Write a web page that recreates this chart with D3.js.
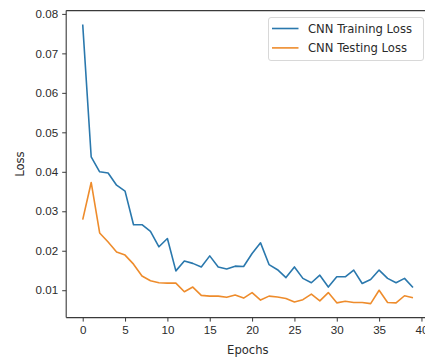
<!DOCTYPE html>
<html>
<head>
<meta charset="utf-8">
<script src="https://cdn.jsdelivr.net/npm/d3@7/dist/d3.min.js"></script>
<style>
  html, body { margin: 0; padding: 0; background: #fff; }
  svg { display: block; font-family: "DejaVu Sans", sans-serif; }
</style>
</head>
<body>
<svg id="chart" width="425" height="358"></svg>
<script>
// Loss per epoch for the CNN model
const epochs = d3.range(0, 40);
const trainingLoss = [
  0.0773, 0.0438, 0.0400, 0.0397, 0.0366, 0.0351, 0.0266, 0.0266, 0.0249, 0.0210,
  0.0231, 0.0149, 0.0174, 0.0168, 0.0159, 0.0187, 0.0159, 0.0154, 0.0161, 0.0160,
  0.0193, 0.0220, 0.0165, 0.0152, 0.0132, 0.0159, 0.0130, 0.0119, 0.0138, 0.0108,
  0.0134, 0.0134, 0.0151, 0.0117, 0.0127, 0.0151, 0.0130, 0.0119, 0.0130, 0.0107
];
const testingLoss = [
  0.0279, 0.0373, 0.0245, 0.0222, 0.0197, 0.0189, 0.0166, 0.0136, 0.0124, 0.0119,
  0.0118, 0.0118, 0.0096, 0.0108, 0.0087, 0.0085, 0.0085, 0.0082, 0.0088, 0.0080,
  0.0094, 0.0075, 0.0085, 0.0083, 0.0079, 0.0070, 0.0076, 0.0090, 0.0073, 0.0094,
  0.0068, 0.0072, 0.0069, 0.0069, 0.0066, 0.0100, 0.0069, 0.0068, 0.0086, 0.0081
];
const seriesNames = ["CNN Training Loss", "CNN Testing Loss"];
const seriesColors = ["#2a78ad", "#ee8c2c"];
const xTicks = [0, 5, 10, 15, 20, 25, 30, 35, 40];
const yTicks = [0.01, 0.02, 0.03, 0.04, 0.05, 0.06, 0.07, 0.08];

const svg = d3.select("#chart");
const plot = { left: 66.2, right: 429.5, top: 10.6, bottom: 317.6 };

// 5% padding around the data range on both axes
const xMin = d3.min(epochs), xMax = d3.max(epochs);
const xPad = (xMax - xMin) * 0.05;
const x = d3.scaleLinear().domain([xMin - xPad, xMax + xPad]).range([plot.left, plot.right]);

const allLoss = trainingLoss.concat(testingLoss);
const yMin = d3.min(allLoss), yMax = d3.max(allLoss);
const yPad = (yMax - yMin) * 0.05;
const y = d3.scaleLinear().domain([yMin - yPad, yMax + yPad]).range([plot.bottom, plot.top]);

const axisColor = "#3a3a3a";
const textColor = "#2b2b2b";

// Axes
const xAxis = svg.append("g")
  .attr("transform", `translate(0,${plot.bottom})`)
  .call(d3.axisBottom(x).tickValues(xTicks).tickFormat(d3.format("d")).tickSize(4).tickPadding(4));
const yAxis = svg.append("g")
  .attr("transform", `translate(${plot.left},0)`)
  .call(d3.axisLeft(y).tickValues(yTicks).tickFormat(d3.format(".2f")).tickSize(4).tickPadding(4));

[xAxis, yAxis].forEach(g => {
  g.select(".domain").attr("stroke", axisColor).attr("stroke-width", 1.1);
  g.selectAll(".tick line").attr("stroke", axisColor).attr("stroke-width", 1);
  g.selectAll(".tick text").attr("fill", textColor).style("font-size", "11.6px");
});
xAxis.select(".domain").attr("d", `M${plot.left},0H${plot.right}`);
yAxis.select(".domain").attr("d", `M0,${plot.bottom}V${plot.top}`);

// Top and right spines
svg.append("line")
  .attr("x1", plot.left).attr("x2", plot.right)
  .attr("y1", plot.top).attr("y2", plot.top)
  .attr("stroke", axisColor).attr("stroke-width", 1.1);
svg.append("line")
  .attr("x1", plot.right).attr("x2", plot.right)
  .attr("y1", plot.top).attr("y2", plot.bottom)
  .attr("stroke", axisColor).attr("stroke-width", 1.1);

// Axis titles
svg.append("text")
  .attr("x", (plot.left + plot.right) / 2)
  .attr("y", 354)
  .attr("text-anchor", "middle")
  .attr("fill", textColor)
  .style("font-size", "11.6px")
  .text("Epochs");
svg.append("text")
  .attr("transform", `translate(24,${(plot.top + plot.bottom) / 2}) rotate(-90)`)
  .attr("text-anchor", "middle")
  .attr("fill", textColor)
  .style("font-size", "11.6px")
  .text("Loss");

// Loss curves
const line = d3.line().x((d, i) => x(epochs[i])).y(d => y(d));
[trainingLoss, testingLoss].forEach((values, k) => {
  svg.append("path")
    .datum(values)
    .attr("fill", "none")
    .attr("stroke", seriesColors[k])
    .attr("stroke-width", 1.6)
    .attr("stroke-linejoin", "round")
    .attr("d", line);
});

// Legend
const legend = svg.append("g").attr("transform", "translate(268.5,17.5)");
legend.append("rect")
  .attr("width", 155).attr("height", 43)
  .attr("rx", 2.5)
  .attr("fill", "#fff").attr("fill-opacity", 0.85)
  .attr("stroke", "#d8d8d8").attr("stroke-width", 1);
seriesNames.forEach((name, k) => {
  const row = legend.append("g").attr("transform", `translate(0,${11 + k * 19.4})`);
  row.append("line")
    .attr("x1", 3.5).attr("x2", 30)
    .attr("stroke", seriesColors[k]).attr("stroke-width", 1.6);
  row.append("text")
    .attr("x", 39.5).attr("y", 4)
    .attr("fill", textColor)
    .style("font-size", "11.6px")
    .text(name);
});
</script>
</body>
</html>
